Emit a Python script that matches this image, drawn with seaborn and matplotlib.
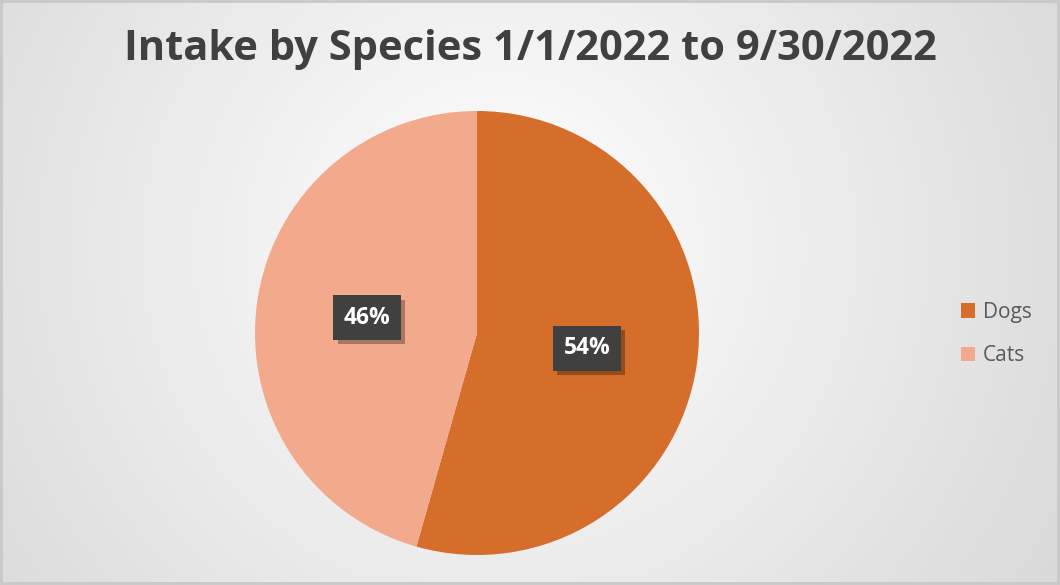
import numpy as np
import matplotlib
matplotlib.use("Agg")
import matplotlib.pyplot as plt
import matplotlib.patheffects as pe
from matplotlib.patches import Rectangle
import seaborn as sns

categories = ["Dogs", "Cats"]
shares = [54.4, 45.6]
pct_labels = ["54%", "46%"]
colors = ["#D46E2A", "#F3A98B"]
title = "Intake by Species 1/1/2022 to 9/30/2022"

sns.set_theme(style="white")
plt.rcParams["font.family"] = ["Open Sans", "DejaVu Sans"]

W, H = 1060, 585
fig = plt.figure(figsize=(W / 100, H / 100), dpi=100)

# background radial gradient
bg = fig.add_axes([0, 0, 1, 1])
yy, xx = np.mgrid[0:H, 0:W]
cx, cy = 0.47 * W, 0.42 * H
d = np.sqrt(((xx - cx) / (0.62 * W)) ** 2 + ((yy - cy) / (0.62 * W)) ** 2)
d = np.clip(d / d.max(), 0, 1)
val = 1.0 - d * (1.0 - 0.85)
img = np.dstack([val, val, val])
bg.imshow(img, extent=[0, W, H, 0], aspect="auto", interpolation="bilinear")
bg.set_xlim(0, W)
bg.set_ylim(H, 0)
bg.axis("off")
bg.add_patch(Rectangle((1, 1), W - 3, H - 3, fill=False, edgecolor="#C8C8C8", lw=2))

# pie
r = 222
cxp, cyp = 477, 333
ax = fig.add_axes([(cxp - r) / W, 1 - (cyp + r) / H, 2 * r / W, 2 * r / H])
wedges, texts = ax.pie(
    shares, colors=colors, startangle=90, counterclock=False,
    labels=pct_labels, labeldistance=0.5,
    wedgeprops=dict(edgecolor="none", linewidth=0),
    textprops=dict(color="white", fontsize=16.5, fontweight="bold",
                   ha="center", va="center"),
)
for t in texts:
    t.set_bbox(dict(boxstyle="square,pad=0.45", facecolor="#404040",
                    edgecolor="none"))
    t.get_bbox_patch().set_path_effects(
        [pe.SimplePatchShadow(offset=(3, -3), shadow_rgbFace="#000000", alpha=0.3),
         pe.Normal()])
ax.set_aspect("equal")
ax.set_xlim(-1, 1)
ax.set_ylim(-1, 1)
ax.axis("off")

fig.text(530 / W, 1 - 50 / H, title, ha="center", va="center",
         fontsize=30, fontweight="bold", color="#404040")

# legend
handles = [Rectangle((0, 0), 1, 1, facecolor=c, edgecolor="none") for c in colors]
leg = fig.legend(handles, categories, loc="center left",
                 bbox_to_anchor=(942 / W, 1 - 334 / H), frameon=False,
                 fontsize=15, handlelength=0.7, handleheight=0.7,
                 handletextpad=0.35, labelspacing=1.1, labelcolor="#595959")

fig.savefig("out.png", dpi=100)
